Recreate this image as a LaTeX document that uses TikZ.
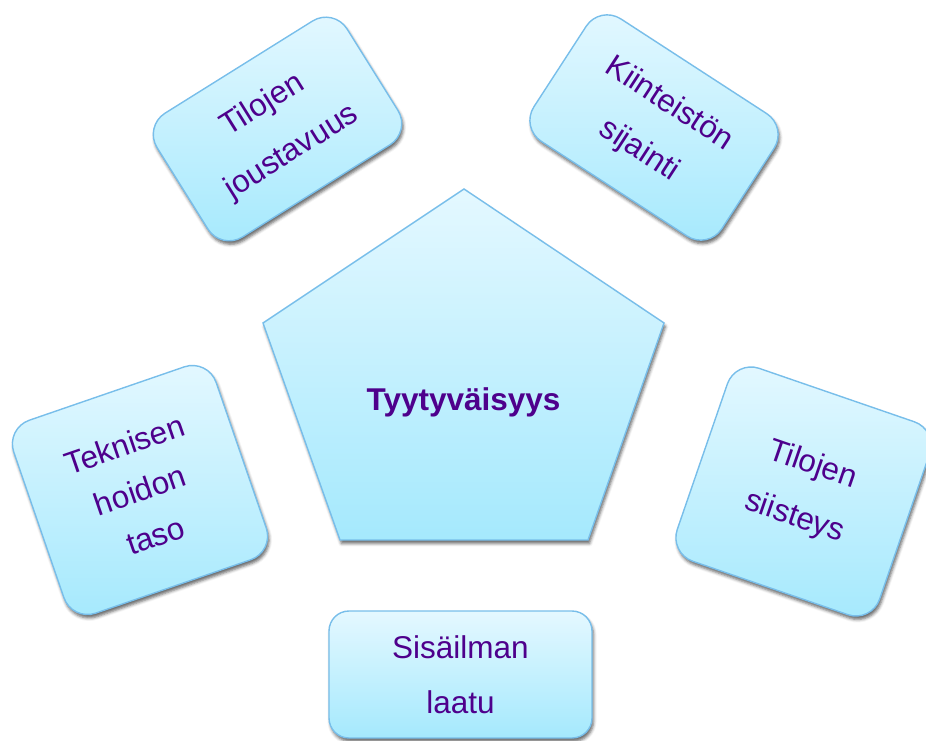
\documentclass[tikz,border=0pt]{standalone}
\usepackage{fontspec}
\setmainfont{Liberation Sans}
\usetikzlibrary{shadows.blur}
\definecolor{txtpurple}{RGB}{78,0,140}
\definecolor{boxtop}{RGB}{228,248,255}
\definecolor{boxbot}{RGB}{165,233,253}
\definecolor{boxline}{RGB}{120,190,234}
\tikzset{
  softshadow/.style={blur shadow={shadow xshift=1.5pt, shadow yshift=-3.5pt, shadow blur radius=3pt, shadow opacity=60}},
  card/.style={draw=boxline, line width=1.4pt, top color=boxtop, bottom color=boxbot,
    rounded corners=25pt, inner sep=0pt, align=center, text=txtpurple,
    font=\fontsize{31.5}{55}\selectfont, softshadow},
  centertext/.style={text=txtpurple, font=\fontsize{31.5}{38}\selectfont\bfseries, inner sep=0pt}
}
\begin{document}
\begin{tikzpicture}[x=1pt,y=1pt]
\useasboundingbox (0,0) rectangle (926,740);
% central pentagon
\path[draw=boxline, line width=1.4pt, top color=boxtop, bottom color=boxbot, softshadow]
  (464,551) -- (664,417) -- (588,200) -- (340,200) -- (263,417) -- cycle;
\node[centertext, anchor=base] (center) at (463.5,330) {Tyytyväisyys};
% surrounding cards
\node[card, minimum width=224pt, minimum height=146pt, rotate=32] (tl) at (277.5,611) {Tilojen\\joustavuus};
\node[card, minimum width=224pt, minimum height=146pt, rotate=-33] (tr) at (654,612.5) {Kiinteistön\\sijainti};
\node[card, minimum width=214pt, minimum height=204pt, rotate=19, font=\fontsize{31.5}{48}\selectfont] (lf) at (140,250) {Teknisen\\hoidon\\taso};
\node[card, minimum width=214pt, minimum height=204pt, rotate=-19] (rt) at (803.5,248.5) {Tilojen\\siisteys};
\node[card, minimum width=263pt, minimum height=127pt, rounded corners=20pt] (bt) at (460.5,65.5) {Sisäilman\\laatu};
\end{tikzpicture}
\end{document}
